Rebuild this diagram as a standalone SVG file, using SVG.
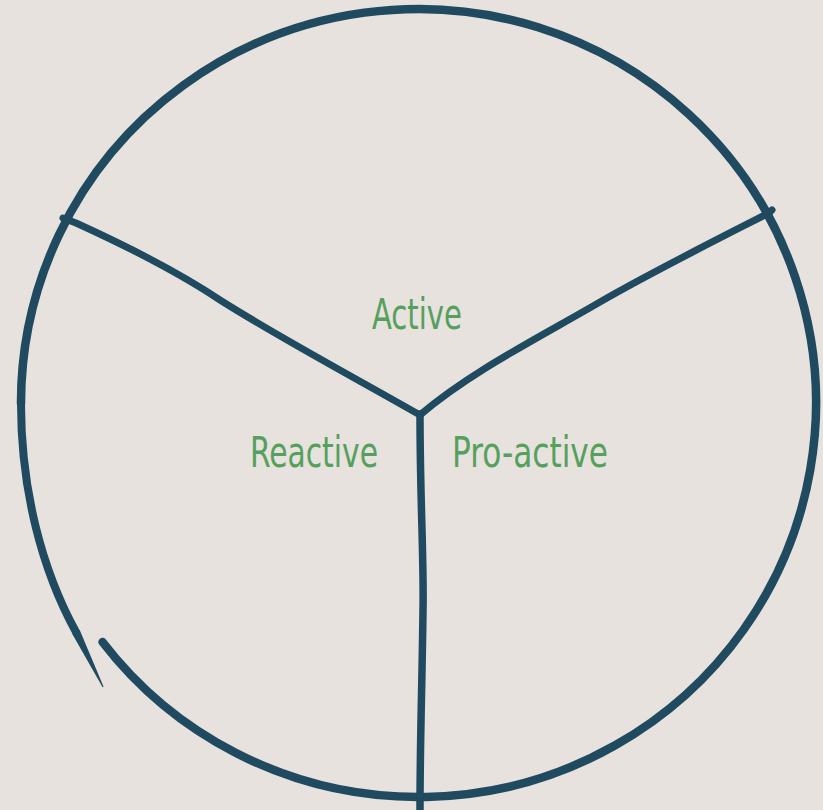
<svg xmlns="http://www.w3.org/2000/svg" width="823" height="810" viewBox="0 0 823 810">
<style>
.ink{fill:none;stroke:#1f4a5f;stroke-linecap:round;stroke-linejoin:round}
.lbl{font-family:"Liberation Sans Narrow","DejaVu Sans Condensed","Liberation Sans",sans-serif;font-size:42px;fill:#55a05c}
</style>
<rect width="823" height="810" fill="#e7e2de"/>
<g id="circle">
<path class="ink" stroke-width="8.5" d="M102.5,642 A397.5,394 0 1 0 21,403.5"/>
<path class="ink" stroke-width="8" d="M21,403.5 C21,490 42,570 76,632"/>
<path d="M79.7,630 L103.6,686.8 L102.6,687.2 L72.3,634 Z" fill="#1f4a5f"/>
</g>
<g id="connectors">
<path class="ink" stroke-width="7" d="M63,218 L76,223 C120,243 175,270 220,300 C280,338 350,375 420,415"/>
<path class="ink" stroke-width="7" d="M772,210 L769,213 C720,238 650,273 600,302 C540,337 470,372 420,415"/>
<path class="ink" stroke-width="7.5" stroke-linecap="butt" d="M420,414 C420,500 424,560 423,610 C422,690 420,740 420,810"/>
</g>
<g id="active"><text class="lbl" x="372" y="329" textLength="90" lengthAdjust="spacingAndGlyphs">Active</text></g>
<g id="reactive"><text class="lbl" x="250" y="467" textLength="128" lengthAdjust="spacingAndGlyphs">Reactive</text></g>
<g id="proactive"><text class="lbl" x="452" y="467" textLength="156" lengthAdjust="spacingAndGlyphs">Pro-active</text></g>
</svg>
